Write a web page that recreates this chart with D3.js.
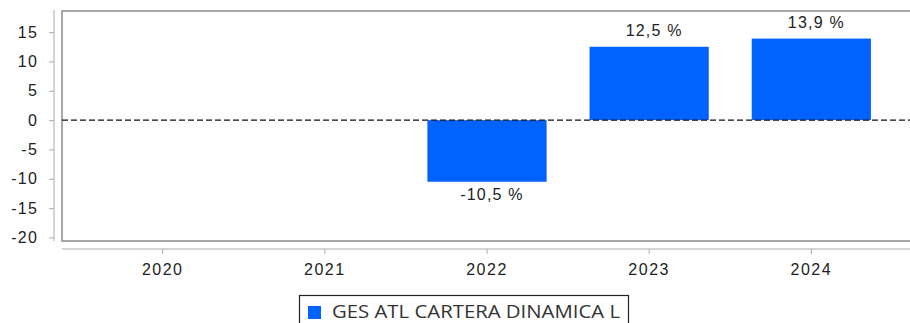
<!DOCTYPE html>
<html>
<head>
<meta charset="utf-8">
<script src="https://cdn.jsdelivr.net/npm/d3@7"></script>
<style>
  html, body { margin: 0; padding: 0; background: #fff; }
  svg { display: block; }
</style>
</head>
<body>
<svg id="chart" width="910" height="323"></svg>
<script>
// Annual returns of the fund (%)
const years = ["2020", "2021", "2022", "2023", "2024"];
const returns = [null, null, -10.5, 12.5, 13.9];
const yTicks = [15, 10, 5, 0, -5, -10, -15, -20];
const seriesName = "GES ATL CARTERA DINAMICA L";

const svg = d3.select("#chart");
const W = 910, H = 323;
const plot = { left: 62, top: 11, right: 912, bottom: 241 };

const y = d3.scaleLinear().domain([-20.6, 18.6]).range([plot.bottom, plot.top]);
const x = d3.scaleBand().domain(years).range([82, 892]).paddingInner(0.265).paddingOuter(0.13);

const fontAxis = "'Liberation Sans', Arial, sans-serif";
// plain hyphen for negatives, comma as decimal separator
const intFmt = v => String(v);
const pctFmt = v => v.toFixed(1).replace(".", ",") + " %";

// Plot frame
svg.append("rect")
  .attr("x", plot.left).attr("y", plot.top)
  .attr("width", plot.right - plot.left).attr("height", plot.bottom - plot.top)
  .attr("fill", "none").attr("stroke", "#8a8a8a").attr("stroke-width", 1.5);

// Y axis
const yAxis = svg.append("g").attr("transform", "translate(54,0)")
  .call(d3.axisLeft(y).tickValues(yTicks).tickSize(5).tickPadding(11).tickFormat(intFmt));
yAxis.select(".domain").attr("d", `M0,${plot.top - 1}V${plot.bottom}`).attr("stroke", "#aaa");
yAxis.selectAll(".tick line").attr("stroke", "#aaa");
yAxis.selectAll("text").attr("font-family", fontAxis).attr("font-size", 16)
  .attr("letter-spacing", 1.2).attr("fill", "#222");

// X axis
const xAxis = svg.append("g").attr("transform", "translate(0,249)")
  .call(d3.axisBottom(x).tickSize(5).tickPadding(10));
xAxis.select(".domain").attr("d", `M${plot.left},0H${W}`).attr("stroke", "#aaa");
xAxis.selectAll(".tick line").attr("stroke", "#aaa");
xAxis.selectAll("text").attr("font-family", fontAxis).attr("font-size", 16)
  .attr("letter-spacing", 1.5).attr("fill", "#222");

// Bars
const data = years.map((yr, i) => ({ year: yr, value: returns[i] })).filter(d => d.value != null);
svg.append("g").selectAll("rect").data(data).join("rect")
  .attr("x", d => x(d.year))
  .attr("width", x.bandwidth())
  .attr("y", d => y(Math.max(0, d.value)))
  .attr("height", d => Math.abs(y(d.value) - y(0)))
  .attr("fill", "#0062ff");

// Zero reference line
svg.append("line")
  .attr("x1", plot.left).attr("x2", W)
  .attr("y1", y(0)).attr("y2", y(0))
  .attr("stroke", "#111").attr("stroke-width", 1.3).attr("stroke-dasharray", "6,3");

// Value labels
svg.append("g").selectAll("text").data(data).join("text")
  .attr("x", d => x(d.year) + x.bandwidth() / 2 + 5)
  .attr("y", d => d.value >= 0 ? y(d.value) - 11 : y(d.value) + 18)
  .attr("text-anchor", "middle")
  .attr("font-family", fontAxis).attr("font-size", 16)
  .attr("letter-spacing", 1.2).attr("fill", "#222")
  .text(d => pctFmt(d.value));

// Legend
const legend = svg.append("g");
legend.append("rect")
  .attr("x", 299.5).attr("y", 295.5).attr("width", 329).attr("height", 40)
  .attr("fill", "#fff").attr("stroke", "#222").attr("stroke-width", 1.2);
legend.append("rect")
  .attr("x", 308).attr("y", 306).attr("width", 13).attr("height", 13)
  .attr("fill", "#0062ff");
legend.append("text")
  .attr("x", 332).attr("y", 318)
  .attr("font-family", "'Open Sans', sans-serif").attr("font-size", 18).attr("fill", "#333")
  .attr("textLength", 288).attr("lengthAdjust", "spacingAndGlyphs")
  .text(seriesName);
</script>
</body>
</html>
